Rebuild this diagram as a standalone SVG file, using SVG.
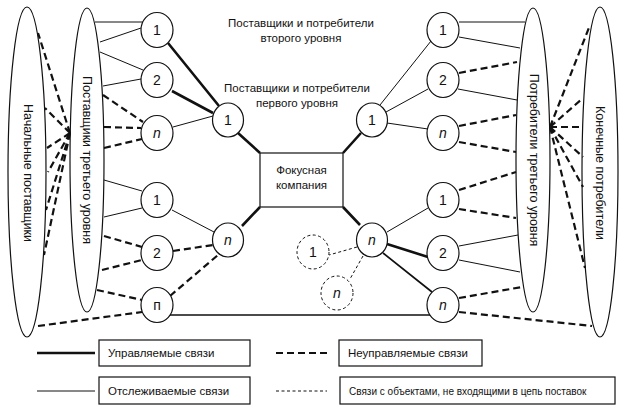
<svg xmlns="http://www.w3.org/2000/svg" width="625" height="409" viewBox="0 0 625 409">
<style>
text{font-family:"Liberation Sans",Arial,sans-serif;fill:#111}
.ell{fill:#fff;stroke:#111;stroke-width:1.2}
.nd{fill:#fff;stroke:#111;stroke-width:1.2}
.dnd{fill:#fff;stroke:#111;stroke-width:1;stroke-dasharray:3 2.5}
.num{font-size:14px;text-anchor:middle}
.it{font-style:italic}
.lbl{font-size:11.5px;text-anchor:middle}
.vt{font-size:12.5px;text-anchor:middle}
.thick{stroke:#111;stroke-width:2.6;fill:none}
.med{stroke:#111;stroke-width:1.7;fill:none}
.thin{stroke:#111;stroke-width:1;fill:none}
.dash{stroke:#111;stroke-width:2.2;stroke-dasharray:7 4;fill:none}
.tdash{stroke:#111;stroke-width:1;stroke-dasharray:3 2.5;fill:none}
.box{fill:#fff;stroke:#111;stroke-width:1.2}
.leg{font-size:11.5px}
</style>
<g id="initial-suppliers"><ellipse class="ell" cx="27" cy="172" rx="19" ry="165"/><text class="vt" transform="translate(28,173) rotate(90)" dy="4.5">Начальные поставщики</text></g>
<g id="tier3-suppliers"><ellipse class="ell" cx="87" cy="160" rx="17" ry="152"/><text class="vt" transform="translate(87,160) rotate(90)" dy="4.5">Поставщики третьего уровня</text></g>
<g id="tier3-consumers"><ellipse class="ell" cx="533" cy="160" rx="17" ry="152"/><text class="vt" transform="translate(534,160) rotate(90)" dy="4.5">Потребители третьего уровня</text></g>
<g id="end-consumers"><ellipse class="ell" cx="600" cy="172" rx="18" ry="165"/><text class="vt" transform="translate(600,173) rotate(90)" dy="4.5">Конечные потребители</text></g>
<g id="connectors">
<path class="thick" d="M168,43L219,106M172,91L213,113M238,133L260,153M242,226L260,207M343,153L361,133M343,207L360,225M387,244L428,257"/>
<path class="med" d="M383,253L432,292M170,315L430,315"/>
<path class="thin" d="M173,127L213,116M172,210L214,232M380,105L431,41M386,112L428,89M387,123L428,129M387,232L428,208"/>
<path class="thin" d="M95,22L143,22M100,42L141,28M100,52L143,70M103,86L141,79M104,180L142,191M104,217L142,208"/>
<path class="thin" d="M459,22L525,22M459,37L520,48M458,89L517,100M459,246L518,235M459,260L520,272"/>
<path class="dash" d="M103,95L143,122M104,127L141,128M104,148L142,139M104,236L142,247M102,270L142,260M97,290L142,300M38,326L142,312M173,251L213,245M170,296L218,255"/>
<path class="dash" d="M459,73L517,62M459,126L516,115M459,142L516,152M459,190L516,172M459,209L516,218M459,298L522,287M459,312L592,326"/>
<path class="dash" d="M70,133L38,33M70,133L45,108M70,133L47,148M70,133L48,172M70,133L46,210M70,133L44,255"/>
<path class="dash" d="M550,127L590,25M550,127L583,98M550,127L583,127M550,127L583,157M550,127L583,187M550,127L585,268"/>
<path class="tdash" d="M357,247L329,255M363,256L350,279"/>
</g>
<g id="L1"><ellipse class="nd" cx="157" cy="30" rx="16" ry="17.5"/><text class="num" x="157" y="35">1</text></g>
<g id="L2"><ellipse class="nd" cx="157" cy="80" rx="16" ry="17.5"/><text class="num" x="157" y="85">2</text></g>
<g id="L3"><ellipse class="nd" cx="157" cy="133" rx="16" ry="17.5"/><text class="num it" x="157" y="138">n</text></g>
<g id="L4"><ellipse class="nd" cx="157" cy="200" rx="16" ry="17.5"/><text class="num" x="157" y="205">1</text></g>
<g id="L5"><ellipse class="nd" cx="157" cy="253" rx="16" ry="17.5"/><text class="num" x="157" y="258">2</text></g>
<g id="L6"><ellipse class="nd" cx="157" cy="305" rx="16" ry="17.5"/><text class="num" x="157" y="310">п</text></g>
<g id="ML1"><ellipse class="nd" cx="228" cy="120" rx="15.5" ry="17"/><text class="num" x="228" y="125">1</text></g>
<g id="ML2"><ellipse class="nd" cx="228" cy="240" rx="15.5" ry="17"/><text class="num it" x="228" y="245">n</text></g>
<g id="MR1"><ellipse class="nd" cx="372" cy="120" rx="15.5" ry="17"/><text class="num" x="372" y="125">1</text></g>
<g id="MR2"><ellipse class="nd" cx="372" cy="240" rx="15.5" ry="17"/><text class="num it" x="372" y="245">n</text></g>
<g id="R1"><ellipse class="nd" cx="443" cy="30" rx="16" ry="17.5"/><text class="num" x="443" y="35">1</text></g>
<g id="R2"><ellipse class="nd" cx="443" cy="80" rx="16" ry="17.5"/><text class="num" x="443" y="85">2</text></g>
<g id="R3"><ellipse class="nd" cx="443" cy="133" rx="16" ry="17.5"/><text class="num it" x="443" y="138">n</text></g>
<g id="R4"><ellipse class="nd" cx="443" cy="200" rx="16" ry="17.5"/><text class="num" x="443" y="205">1</text></g>
<g id="R5"><ellipse class="nd" cx="443" cy="253" rx="16" ry="17.5"/><text class="num" x="443" y="258">2</text></g>
<g id="R6"><ellipse class="nd" cx="443" cy="305" rx="16" ry="17.5"/><text class="num it" x="443" y="310">n</text></g>
<g id="X1"><ellipse class="dnd" cx="313" cy="252" rx="16" ry="17"/><text class="num" x="313" y="257">1</text></g>
<g id="X2"><ellipse class="dnd" cx="337" cy="293" rx="16" ry="17"/><text class="num it" x="337" y="298">n</text></g>
<g id="focal"><rect class="box" x="260" y="153" width="83" height="54"/><text class="lbl" x="301.5" y="174">Фокусная</text><text class="lbl" x="301.5" y="189">компания</text></g>
<g id="label-tier2"><text class="lbl" x="301" y="27">Поставщики и потребители</text><text class="lbl" x="301" y="42">второго уровня</text></g>
<g id="label-tier1"><text class="lbl" x="297" y="92">Поставщики и потребители</text><text class="lbl" x="297" y="107">первого уровня</text></g>
<g id="legend">
<line class="thick" x1="37" y1="353" x2="95" y2="353"/>
<rect class="box" x="99" y="340" width="151" height="26"/><text class="leg" x="108" y="357">Управляемые связи</text>
<line class="dash" x1="276" y1="353" x2="330" y2="353"/>
<rect class="box" x="339" y="340" width="143" height="26"/><text class="leg" x="348" y="357">Неуправляемые связи</text>
<line class="thin" x1="37" y1="391" x2="95" y2="391"/>
<rect class="box" x="99" y="377" width="151" height="27"/><text class="leg" x="108" y="395">Отслеживаемые связи</text>
<line class="tdash" x1="276" y1="391" x2="327" y2="391"/>
<rect class="box" x="340" y="377" width="275" height="27"/><text class="leg" x="349" y="395" style="font-size:10px">Связи с объектами, не входящими в цепь поставок</text>
</g>
</svg>
